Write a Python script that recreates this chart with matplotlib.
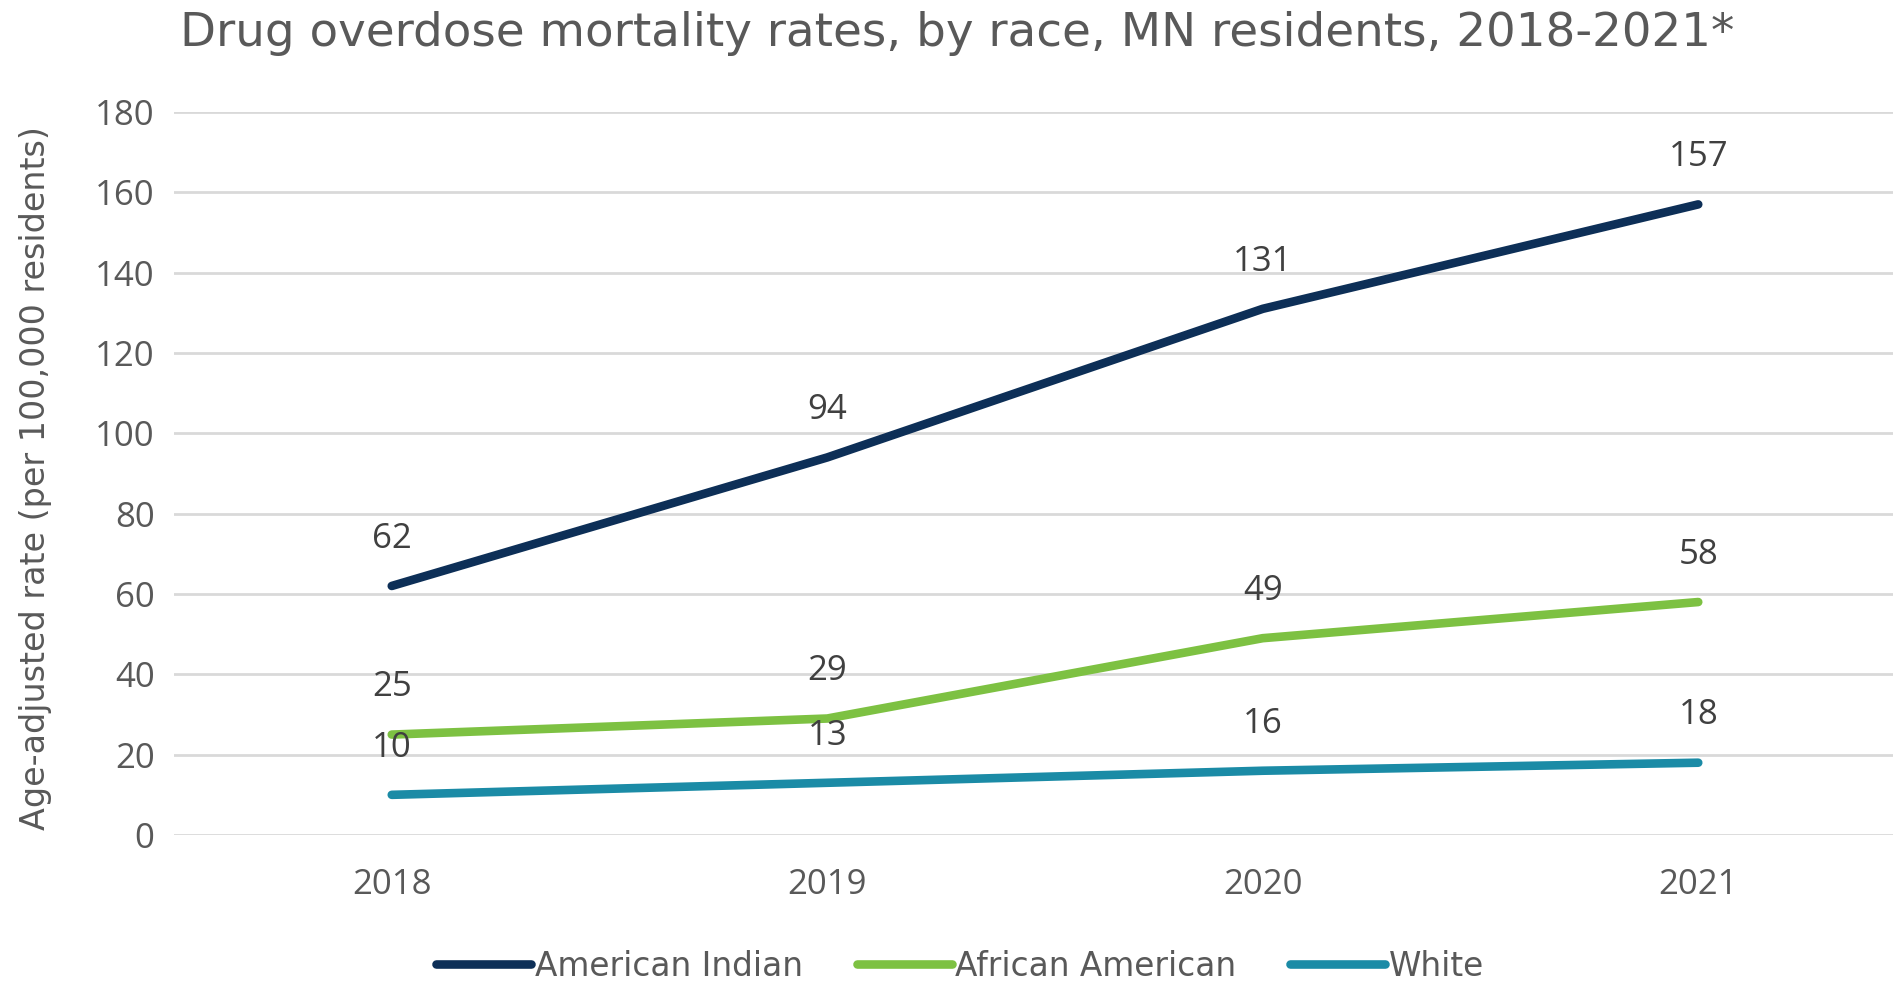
import matplotlib
matplotlib.use("Agg")
import matplotlib.pyplot as plt

years = ["2018", "2019", "2020", "2021"]
american_indian = [62, 94, 131, 157]
african_american = [25, 29, 49, 58]
white = [10, 13, 16, 18]
series_names = ["American Indian", "African American", "White"]
series_colors = ["#0D2F57", "#7DC142", "#1B8BA6"]
y_ticks = [0, 20, 40, 60, 80, 100, 120, 140, 160, 180]

narrow = "DejaVu Sans Condensed"
wide = "Open Sans"
text_col = "#595959"

fig = plt.figure(figsize=(18.93, 9.82), dpi=100)
# plot area runs past the right edge, as in the cropped original
ax = fig.add_axes([174 / 1893, 1 - 835 / 982, (1916 - 174) / 1893, (835 - 112) / 982])

xs = range(len(years))
for vals, name, col in zip([american_indian, african_american, white], series_names, series_colors):
    ax.plot(xs, vals, color=col, lw=6.2, solid_capstyle="round", label=name, zorder=3)
    for x, v in zip(xs, vals):
        ax.annotate(str(v), (x, v), xytext=(0, 34), textcoords="offset points",
                    ha="center", va="center", fontsize=25, family=wide, color="#404040")

ax.set_xlim(-0.5, 3.5)
ax.set_ylim(0, 180)
ax.set_yticks(y_ticks)
ax.set_xticks(list(xs))
ax.set_xticklabels(years)
ax.yaxis.grid(True, color="#D9D9D9", lw=2)
ax.set_axisbelow(True)
for s in ax.spines.values():
    s.set_visible(False)
ax.tick_params(length=0, labelsize=25, labelcolor=text_col, pad=14)
ax.tick_params(axis="x", pad=24)
for lab in ax.get_xticklabels() + ax.get_yticklabels():
    lab.set_family(wide)

fig.text(36 / 1893, 1 - 478 / 982, "Age-adjusted rate (per 100,000 residents)", rotation=90,
         ha="center", va="center", fontsize=24, family=narrow, color=text_col)
fig.text(957 / 1893, 1 - 33 / 982, "Drug overdose mortality rates, by race, MN residents, 2018-2021*",
         ha="center", va="center", fontsize=33.7, family=narrow, color=text_col)

fig.legend(loc="center", bbox_to_anchor=(960 / 1893, 1 - 966 / 982), ncol=3, frameon=False,
           prop={"family": narrow, "size": 23.6}, handlelength=2.9, handletextpad=0.1,
           columnspacing=1.65, labelcolor=text_col)

fig.savefig("out.png", dpi=100)
